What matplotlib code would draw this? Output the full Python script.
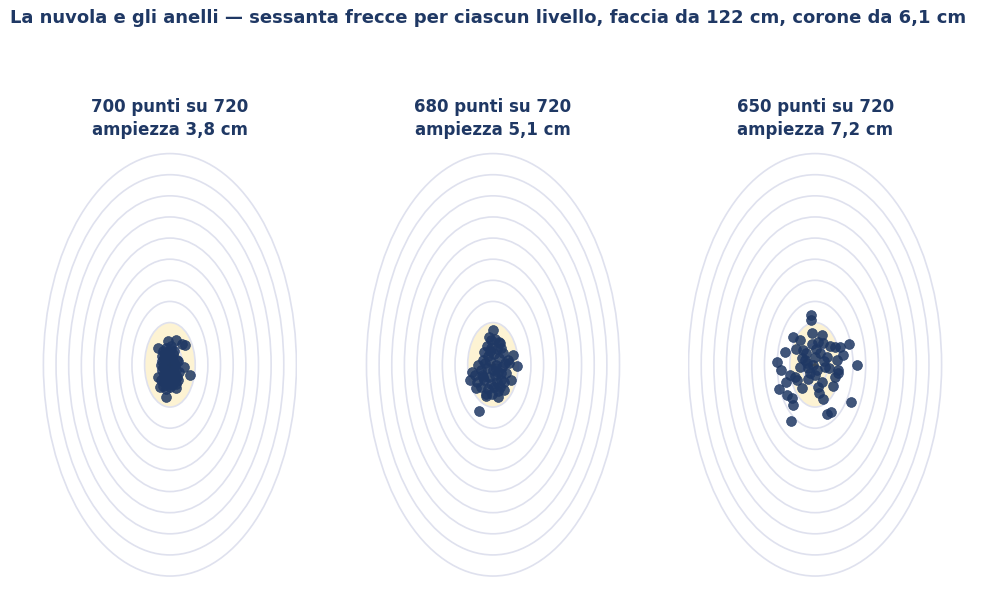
import numpy as np
import matplotlib.pyplot as plt
from matplotlib.patches import Circle

# Ring radii (cm): ten rings of 6.1 cm on a 122 cm face
ring_step = 6.1
ring_radii = [ring_step * k for k in range(1, 11)]
gold_radius = 12.2

titles = ["700 punti su 720\nampiezza 3,8 cm",
          "680 punti su 720\nampiezza 5,1 cm",
          "650 punti su 720\nampiezza 7,2 cm"]

# Arrow impacts (cm from centre)
x1 = [-5.8, -1.0, 2.9, 5.8, 7.2, 6.7, 9.6, -1.9, -4.8, -5.8, 2.9,
      -3.5, -2.0, -1.0, 0.5, 1.5, -4.0, -3.0, -2.5, -1.5, 0.0, 1.0, 2.0, 3.5,
      -4.5, -3.5, -2.0, -0.5, 1.0, 2.5, 4.0, -4.0, -2.5, -1.0, 0.5, 2.0, 3.0,
      -3.0, -1.5, 0.0, 1.5, 3.5, 4.5, -4.5, -3.0, -2.0, -0.5, 1.0, 2.5,
      -3.5, -2.0, 0.0, 1.5, 3.0, -1.0, 0.5, -2.5, 2.0, -4.0, 4.0]
y1 = [4.9, 6.9, 7.2, 6.0, 5.7, -0.6, -2.9, -9.2, -6.3, -3.4, -6.6,
      4.0, 5.0, 3.5, 4.5, 3.0, 2.5, 2.0, 1.0, 2.5, 1.5, 2.0, 0.5, 1.5,
      0.0, -0.5, 0.0, 0.5, -0.5, 0.0, 1.0, -1.5, -2.0, -1.5, -1.0, -2.0, -1.5,
      -3.0, -3.5, -3.0, -2.5, -3.5, -2.0, -4.5, -5.0, -4.5, -5.5, -4.0, -4.5,
      -6.0, -7.0, -6.5, -5.5, -5.5, 3.0, 5.5, 3.5, 4.0, 1.0, -4.5]

x2 = [0.0, -1.0, 3.4, -4.3, 9.6, 11.5, -10.1, -11.0, -8.2, -3.4, 2.4, 5.3, -6.7, 8.7, 3.8,
      -2.0, 1.0, 4.0, -3.0, -1.0, 2.0, 5.0, 7.0, -5.0, -2.5, 0.5, 3.0, 6.0,
      -7.0, -4.0, -1.5, 1.5, 4.5, -6.0, -3.0, 0.0, 2.5, 6.5, -8.5, -5.5,
      -2.0, 1.0, 4.0, -7.5, -4.5, -1.0, 2.0, -6.0, -2.5, 0.5, 3.5, -3.5,
      -0.5, 2.5, 5.5, -5.0, 1.5, 7.5, -1.5, 3.0]
y2 = [10.0, 7.2, 6.3, 3.7, 2.9, -0.3, -2.0, -4.3, -6.6, -8.3, -9.2, -7.2, -13.2, -4.3, -4.3,
      8.0, 7.5, 5.0, 5.5, 5.0, 4.5, 3.5, 1.5, 1.5, 2.5, 3.0, 2.0, 0.5,
      0.0, 0.5, 1.0, 0.0, -0.5, -1.5, -1.0, -1.5, -2.0, -2.5, -3.0, -3.0,
      -3.5, -3.0, -2.5, -5.0, -4.5, -5.5, -5.0, -6.5, -7.0, -6.5, -6.5, -9.0,
      -8.5, -7.5, -5.0, -3.5, -1.0, 0.5, 4.0, 6.5]

x3 = [-1.9, -1.9, -10.6, -14.4, -18.3, -16.3, -17.3, -13.5, -10.6, -11.5,
      3.8, 5.8, 7.7, 17.3, 20.2, 16.3, 12.0, 13.5, 11.1, 9.6,
      -1.4, 3.4, -7.2, -5.8, -9.6, -6.3, -3.4, 1.4, 3.4, -7.2,
      -3.8, 0.0, 2.4, 5.8, 1.4, 3.8, 9.6, -1.0, -3.4, -8.7,
      -12.0, -5.0, 0.5, 6.5, 10.5, -2.5, 1.0, 7.0, -6.5, 4.5,
      -14.0, -9.0, 8.5, 2.0, -4.5, 11.0, -1.5, 5.0, -11.0, 0.0]
y3 = [14.3, 12.9, 8.0, 3.7, 0.9, -1.4, -6.9, -8.6, -11.7, -16.3,
      -10.0, -14.3, -13.5, -10.6, 0.0, 6.0, 5.2, 2.9, -1.4, -3.4,
      9.2, 8.6, 7.2, 4.3, -3.4, -6.6, -4.0, -6.3, -4.9, -0.6,
      0.6, 2.3, 3.4, 2.3, 6.6, 6.3, 5.2, 0.0, -0.9, -4.3,
      -3.0, 1.5, 4.5, -1.0, 1.5, -2.5, -1.5, 5.5, 2.0, 1.0,
      -5.0, 4.5, -6.0, -8.0, 3.5, -2.5, 6.0, -0.5, -9.5, -3.0]

points = [(x1, y1), (x2, y2), (x3, y3)]

navy = "#1f3864"
fig = plt.figure(figsize=(9.85, 6.05), dpi=100)
fig.suptitle("La nuvola e gli anelli — sessanta frecce per ciascun livello, faccia da 122 cm, corone da 6,1 cm",
             x=0.495, y=0.985, fontsize=13, fontweight="bold", color=navy)

lefts = [0.043, 0.371, 0.698]
for left, title, (xs, ys) in zip(lefts, titles, points):
    ax = fig.add_axes([left, 0.045, 0.259, 0.704])
    ax.add_patch(Circle((0, 0), gold_radius, facecolor="#fdf3d3", edgecolor="none", zorder=1))
    for r in ring_radii:
        ax.add_patch(Circle((0, 0), r, facecolor="none", edgecolor="#dfe1ee", lw=1.2, zorder=2))
    ax.plot([0], [0], marker="+", color="#e8a317", ms=5, mew=1.2, zorder=3)
    ax.scatter(xs, ys, s=50, color=navy, alpha=0.85, edgecolors=navy, linewidths=0.5, zorder=4)
    ax.set_xlim(-61.5, 61.5)
    ax.set_ylim(-61.5, 61.5)
    ax.set_aspect("auto")
    ax.axis("off")
    ax.set_title(title, fontsize=12, fontweight="bold", color=navy, pad=12, linespacing=1.35)

fig.savefig("out.png", dpi=100)
